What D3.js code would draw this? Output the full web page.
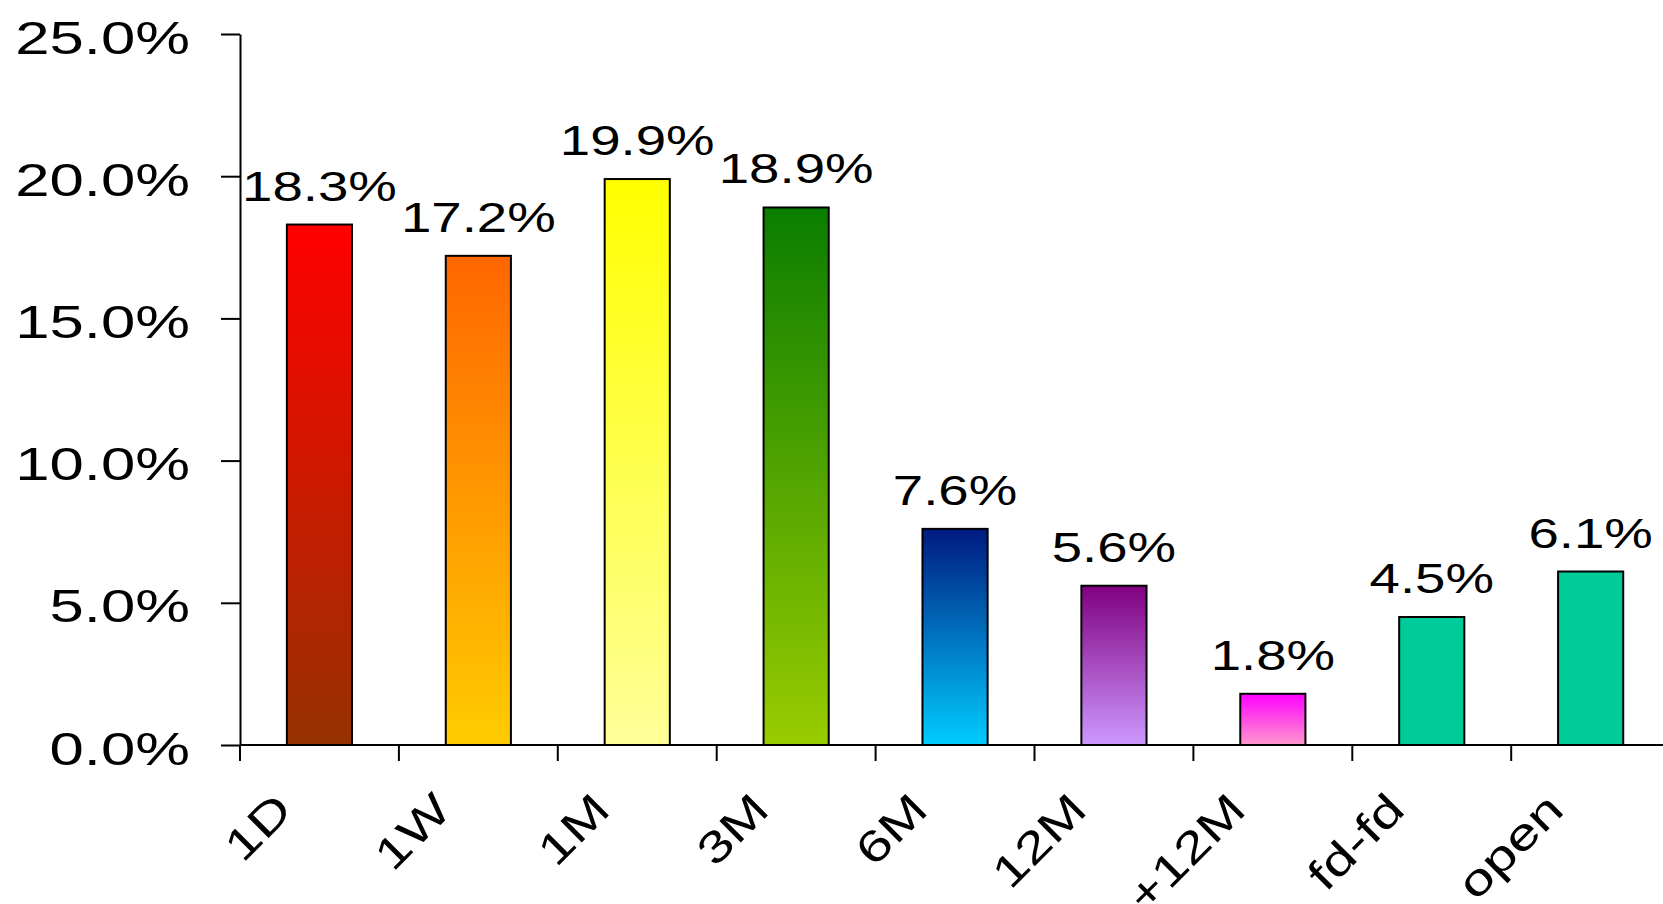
<!DOCTYPE html>
<html>
<head>
<meta charset="utf-8">
<script src="https://cdn.jsdelivr.net/npm/d3@7"></script>
<style>
  html, body { margin: 0; padding: 0; background: #ffffff; overflow: hidden; }
  svg { display: block; }
  text { font-family: "Liberation Sans", Arial, sans-serif; fill: #000; }
</style>
</head>
<body>
<svg id="chart" width="1663" height="904"></svg>
<script>
// ---- data ----
const categories = ["1D", "1W", "1M", "3M", "6M", "12M", "+12M", "fd-fd", "open"];
const values = [18.3, 17.2, 19.9, 18.9, 7.6, 5.6, 1.8, 4.5, 6.1];
const topColors = ["#ff0000", "#ff6600", "#ffff00", "#0a7d00", "#001a80", "#800080", "#ff00ff", "#00cc99", "#00cc99"];
const bottomColors = ["#963200", "#ffcc00", "#ffff99", "#99cc00", "#00ccff", "#cc99ff", "#ff99cc", "#00cc99", "#00cc99"];
const yTicks = [0, 5, 10, 15, 20, 25];

// ---- layout ----
const svg = d3.select("#chart");
const x0 = 240, xEnd = 240 + 9 * 158.9;
const yTop = 34, yBottom = 745;

const x = d3.scaleBand().domain(categories).range([x0, xEnd]).padding(0);
const y = d3.scaleLinear().domain([0, 25]).range([yBottom, yTop]);

const defs = svg.append("defs");
categories.forEach((c, i) => {
  const g = defs.append("linearGradient")
    .attr("id", "grad" + i)
    .attr("x1", 0).attr("y1", 0).attr("x2", 0).attr("y2", 1);
  g.append("stop").attr("offset", "0%").attr("stop-color", topColors[i]);
  g.append("stop").attr("offset", "100%").attr("stop-color", bottomColors[i]);
});

const barW = x.bandwidth() * 0.41;

// bars
svg.append("g").selectAll("rect")
  .data(values)
  .join("rect")
  .attr("x", (d, i) => x(categories[i]) + (x.bandwidth() - barW) / 2)
  .attr("y", d => y(d))
  .attr("width", barW)
  .attr("height", d => y(0) - y(d))
  .attr("fill", (d, i) => `url(#grad${i})`)
  .attr("stroke", "#000")
  .attr("stroke-width", 2);

// value labels
svg.append("g").selectAll("text")
  .data(values)
  .join("text")
  .attr("text-anchor", "middle")
  .attr("font-size", 42)
  .attr("transform", (d, i) => `translate(${x(categories[i]) + x.bandwidth() / 2},${y(d) - 24}) scale(1.3,1)`)
  .text(d => d.toFixed(1) + "%");

// y axis
const yAxis = d3.axisLeft(y)
  .tickValues(yTicks)
  .tickSize(19)
  .tickSizeOuter(0)
  .tickFormat(d => d.toFixed(1) + "%");
const gy = svg.append("g").attr("transform", `translate(${x0},0)`).call(yAxis);
gy.select(".domain").attr("stroke", "#000").attr("stroke-width", 2);
gy.selectAll(".tick line").attr("stroke", "#000").attr("stroke-width", 2);
gy.selectAll(".tick text")
  .attr("x", null).attr("dy", null)
  .attr("font-size", 46)
  .attr("font-family", "Liberation Sans, Arial, sans-serif")
  .attr("text-anchor", "end")
  .attr("transform", "translate(-50,19) scale(1.34,1)");

// x axis (ticks at band boundaries)
const gx = svg.append("g");
gx.append("line")
  .attr("x1", x0).attr("x2", xEnd)
  .attr("y1", y(0)).attr("y2", y(0))
  .attr("stroke", "#000").attr("stroke-width", 2);
gx.selectAll("line.tick")
  .data(categories)
  .join("line")
  .attr("class", "tick")
  .attr("x1", d => x(d)).attr("x2", d => x(d))
  .attr("y1", y(0)).attr("y2", y(0) + 16)
  .attr("stroke", "#000").attr("stroke-width", 2);
gx.selectAll("text")
  .data(categories)
  .join("text")
  .attr("text-anchor", "end")
  .attr("font-size", 44)
  .attr("transform", d => `translate(${x(d) + x.bandwidth() / 2 - 25},${y(0) + 67}) rotate(-45) scale(1.3,1)`)
  .text(d => d);
</script>
</body>
</html>
